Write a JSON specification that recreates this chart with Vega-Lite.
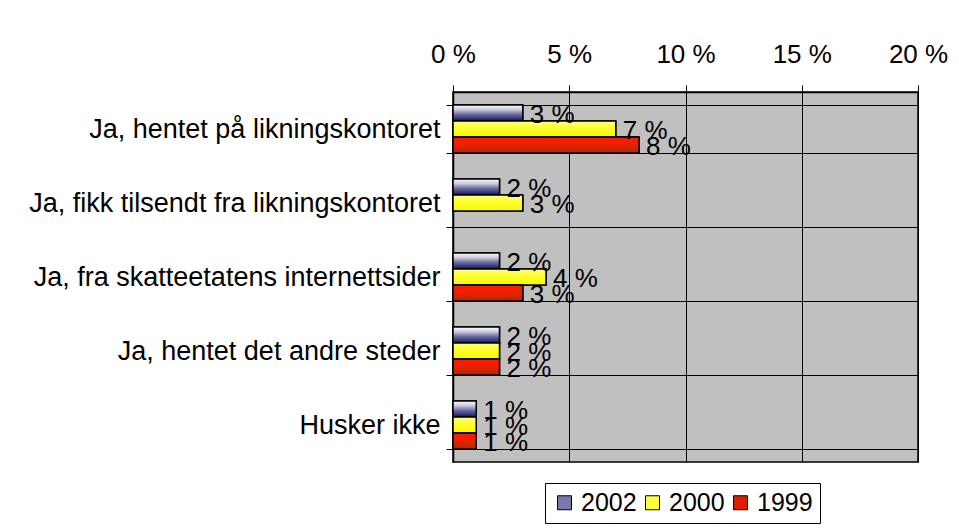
{
  "$schema": "https://vega.github.io/schema/vega-lite/v6.json",
  "autosize": {"type": "none"},
  "padding": {"left": 453, "top": 92, "right": 41, "bottom": 69},
  "width": 465,
  "height": 370,
  "background": "white",
  "data": {
    "values": [
      {"cat": "Ja, hentet på likningskontoret", "year": "2002", "value": 3.0, "label": "3 %"},
      {"cat": "Ja, hentet på likningskontoret", "year": "2000", "value": 7.0, "label": "7 %"},
      {"cat": "Ja, hentet på likningskontoret", "year": "1999", "value": 8.0, "label": "8 %"},
      {"cat": "Ja, fikk tilsendt fra likningskontoret", "year": "2002", "value": 2.0, "label": "2 %"},
      {"cat": "Ja, fikk tilsendt fra likningskontoret", "year": "2000", "value": 3.0, "label": "3 %"},
      {"cat": "Ja, fra skatteetatens internettsider", "year": "2002", "value": 2.0, "label": "2 %"},
      {"cat": "Ja, fra skatteetatens internettsider", "year": "2000", "value": 4.0, "label": "4 %"},
      {"cat": "Ja, fra skatteetatens internettsider", "year": "1999", "value": 3.0, "label": "3 %"},
      {"cat": "Ja, hentet det andre steder", "year": "2002", "value": 2.0, "label": "2 %"},
      {"cat": "Ja, hentet det andre steder", "year": "2000", "value": 2.0, "label": "2 %"},
      {"cat": "Ja, hentet det andre steder", "year": "1999", "value": 2.0, "label": "2 %"},
      {"cat": "Husker ikke", "year": "2002", "value": 1.0, "label": "1 %"},
      {"cat": "Husker ikke", "year": "2000", "value": 1.0, "label": "1 %"},
      {"cat": "Husker ikke", "year": "1999", "value": 1.0, "label": "1 %"}
    ]
  },
  "encoding": {
    "y": {
      "field": "cat", "type": "nominal", "sort": null,
      "scale": {"paddingInner": 0.35, "paddingOuter": 0.175},
      "axis": {"title": null, "tickBand": "extent", "grid": true, "labelFontSize": 27, "labelPadding": 6, "tickSize": 7, "labelLimit": 600}
    },
    "yOffset": {"field": "year", "type": "nominal", "scale": {"domain": ["2002", "2000", "1999"]}},
    "x": {
      "field": "value", "type": "quantitative",
      "scale": {"domain": [0, 20], "nice": false},
      "axis": {"title": null, "orient": "top", "values": [0, 5, 10, 15, 20], "labelExpr": "datum.value + ' %'", "grid": true, "labelFontSize": 26, "tickSize": 7, "labelPadding": 18, "labelFlush": false, "labelOverlap": false}
    }
  },
  "layer": [
    {
      "mark": {"type": "bar", "stroke": "black", "strokeWidth": 1.5},
      "encoding": {
        "fill": {
          "field": "year", "type": "nominal",
          "scale": {"domain": ["2002", "2000", "1999"], "range": ["#7878aa", "#ffff40", "#d82000"]},
          "legend": {
            "title": null, "orient": "none", "direction": "horizontal",
            "legendX": 92, "legendY": 391,
            "strokeColor": "black", "padding": 7,
            "labelFontSize": 25, "symbolType": "square", "symbolSize": 196,
            "symbolStrokeColor": "black", "symbolStrokeWidth": 1, "symbolOpacity": 1,
            "columnPadding": 3, "labelOffset": 4
          }
        }
      }
    },
    {
      "transform": [{"filter": "datum.year == '2002'"}],
      "mark": {"type": "bar", "stroke": "black", "strokeWidth": 1.5,
        "fill": {"gradient": "linear", "x1": 0, "y1": 0, "x2": 0, "y2": 1, "stops": [{"offset": 0, "color": "#ffffff"}, {"offset": 0.3, "color": "#c8c8e0"}, {"offset": 0.6, "color": "#6868a0"}, {"offset": 1, "color": "#16165a"}]}}
    },
    {
      "transform": [{"filter": "datum.year == '2000'"}],
      "mark": {"type": "bar", "stroke": "black", "strokeWidth": 1.5,
        "fill": {"gradient": "linear", "x1": 0, "y1": 0, "x2": 0, "y2": 1, "stops": [{"offset": 0, "color": "#ffff80"}, {"offset": 0.4, "color": "#ffff30"}, {"offset": 1, "color": "#f8f800"}]}}
    },
    {
      "transform": [{"filter": "datum.year == '1999'"}],
      "mark": {"type": "bar", "stroke": "black", "strokeWidth": 1.5,
        "fill": {"gradient": "linear", "x1": 0, "y1": 0, "x2": 0, "y2": 1, "stops": [{"offset": 0, "color": "#ff1800"}, {"offset": 0.45, "color": "#f02000"}, {"offset": 1, "color": "#a03000"}]}}
    },
    {
      "mark": {"type": "text", "align": "left", "baseline": "middle", "dx": 7, "dy": 2, "fontSize": 26, "color": "black"},
      "encoding": {
        "text": {"field": "label", "type": "nominal"},
        "detail": {"field": "year"}
      }
    }
  ],
  "config": {
    "font": "Liberation Sans",
    "view": {"stroke": "black", "strokeWidth": 1.5, "fill": "#c0c0c0"},
    "axis": {"domainColor": "black", "gridColor": "black", "gridOpacity": 1, "tickColor": "black", "labelColor": "black", "domainWidth": 1.5, "gridWidth": 1}
  }
}
